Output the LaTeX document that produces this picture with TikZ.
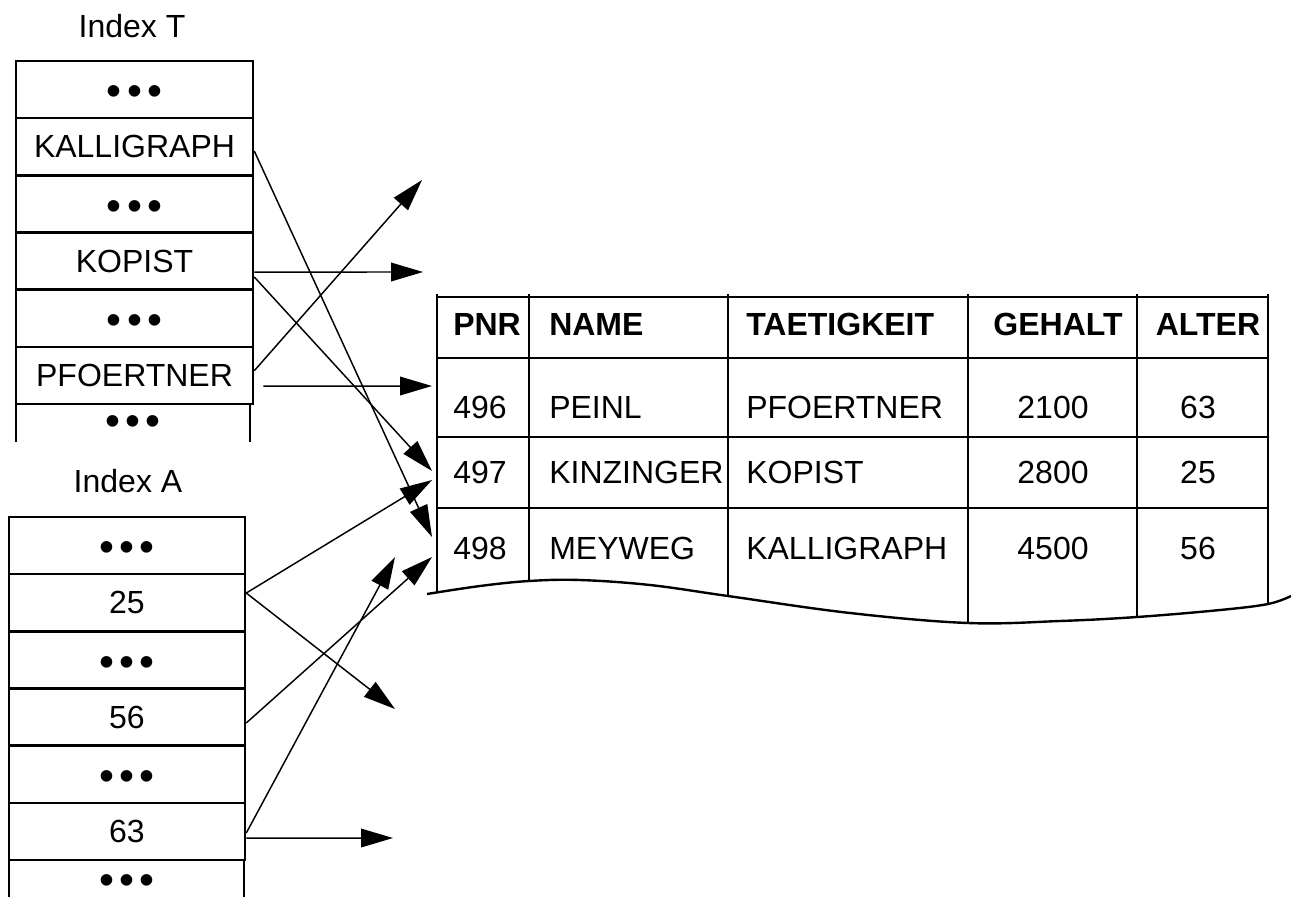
\documentclass[tikz,border=0pt]{standalone}
\usepackage{fontspec}
\setmainfont{Liberation Sans}
\usetikzlibrary{arrows.meta}
\newcommand{\dotsrow}{\raisebox{-4.8pt}[\height][\depth]{\fontsize{32}{34}\selectfont •\hspace{4pt}•\hspace{4pt}•}}
\newcommand{\dotsflat}{\smash{\fontsize{32}{34}\selectfont •\hspace{4pt}•\hspace{4pt}•}}
\begin{document}
\begin{tikzpicture}[x=0.75pt,y=-0.75pt,
  every node/.style={font=\fontsize{24}{28}\selectfont, inner sep=0pt},
  cellT/.style={draw, line width=1.9pt, minimum width=177.75pt, minimum height=42.875pt},
  cellA/.style={draw, line width=1.9pt, minimum width=177pt, minimum height=42.875pt},
  open/.style={line width=1.9pt},
  ptr/.style={line width=1.1pt, -{Triangle[length=24pt,width=14pt]}},
  tab/.style={line width=2.2pt},
  hdl/.style={font=\fontsize{24}{28}\selectfont\bfseries, anchor=base west},
  hdc/.style={font=\fontsize{24}{28}\selectfont\bfseries, anchor=base},
  tl/.style={anchor=base west},
  tc/.style={anchor=base},
  lbl/.style={anchor=base}
]
\useasboundingbox (0,0) rectangle (1291,896);

% ---------- Index T ----------
\node[lbl] (lblT) at (132,37) {Index T};
\node[cellT] (t1) at (134.5,89.6) {\dotsrow};
\node[cellT] (t2) at (134.5,146.8) {KALLIGRAPH};
\node[cellT] (t3) at (134.5,203.9) {\dotsrow};
\node[cellT] (t4) at (134.5,261.1) {KOPIST};
\node[cellT] (t5) at (134.5,318.2) {\dotsrow};
\node[cellT] (t6) at (134.5,375.4) {PFOERTNER};
\draw[open] (16,404) -- (16,442) (250,404) -- (250,442);
\node (t7) at (133,419) {\dotsrow};

% ---------- Index A ----------
\node[lbl] (lblA) at (128,492) {Index A};
\node[cellA] (a1) at (127,545.6) {\dotsrow};
\node[cellA] (a2) at (127,602.8) {25};
\node[cellA] (a3) at (127,659.9) {\dotsrow};
\node[cellA] (a4) at (127,717.1) {56};
\node[cellA] (a5) at (127,774.2) {\dotsrow};
\node[cellA] (a6) at (127,831.4) {63};
\draw[open] (9,860) -- (9,900) (244,860) -- (244,900);
\node[anchor=base] (a7) at (127,894) {\dotsflat};

% ---------- Table ----------
\draw[tab] (437,297) -- (1268,297);
\draw[tab] (437,358) -- (1268,358);
\draw[tab] (437,437) -- (1268,437);
\draw[tab] (437,508) -- (1268,508);
\draw[tab] (437,294) -- (437,592);
\draw[tab] (529,294) -- (529,581);
\draw[tab] (728,294) -- (728,596);
\draw[tab] (968,294) -- (968,623);
\draw[tab] (1137,294) -- (1137,617);
\draw[tab] (1268,294) -- (1268,604);
\draw[line width=1.8pt] plot[smooth, tension=0.6] coordinates
  {(427,594) (480,586) (529,581) (580,580) (650,585) (728,596) (850,613)
   (968,623) (1060,621) (1137,617) (1220,610) (1268,604) (1291,596)};

\node[hdl] (hPNR) at (453,335) {PNR};
\node[hdl] (hNAME) at (549,335) {NAME};
\node[hdl] (hTAET) at (746,335) {TAETIGKEIT};
\node[hdc] (hGEH) at (1058,335) {GEHALT};
\node[hdc] (hALT) at (1208,335) {ALTER};

\node[tl] (p1) at (453,418) {496};
\node[tl] (n1) at (549,418) {PEINL};
\node[tl] (j1) at (746,418) {PFOERTNER};
\node[tc] (g1) at (1053,418) {2100};
\node[tc] (x1) at (1198,418) {63};

\node[tl] (p2) at (453,483) {497};
\node[tl] (n2) at (549,483) {KINZINGER};
\node[tl] (j2) at (746,483) {KOPIST};
\node[tc] (g2) at (1053,483) {2800};
\node[tc] (x2) at (1198,483) {25};

\node[tl] (p3) at (453,559) {498};
\node[tl] (n3) at (549,559) {MEYWEG};
\node[tl] (j3) at (746,559) {KALLIGRAPH};
\node[tc] (g3) at (1053,559) {4500};
\node[tc] (x3) at (1198,559) {56};

% ---------- arrow tips ----------
\coordinate (e1) at (432,537);
\coordinate (e2) at (423,272);
\coordinate (e3) at (432,471);
\coordinate (e4) at (422,180);
\coordinate (e5) at (432,386);
\coordinate (e6) at (432,480);
\coordinate (e7) at (395,709);
\coordinate (e8) at (432,557);
\coordinate (e9) at (395,557);
\coordinate (e10) at (393,838);

% ---------- pointers ----------
\draw[ptr] ([yshift=-3.15pt]t2.east) -- (e1);
\draw[ptr] ([yshift=-8.2pt]t4.east) -- (e2);
\draw[ptr] ([yshift=-11.9pt]t4.east) -- (e3);
\draw[ptr] ([yshift=3.5pt]t6.east) -- (e4);
\draw[ptr] ([xshift=6.75pt,yshift=-8pt]t6.east) -- (e5);
\draw[ptr] ([yshift=7.35pt]a2.east) -- (e6);
\draw[ptr] ([yshift=7.35pt]a2.east) -- (e7);
\draw[ptr] ([yshift=-4.4pt]a4.east) -- (e8);
\draw[ptr] ([yshift=-1.2pt]a6.east) -- (e9);
\draw[ptr] ([yshift=-5pt]a6.east) -- (e10);
\end{tikzpicture}
\end{document}
